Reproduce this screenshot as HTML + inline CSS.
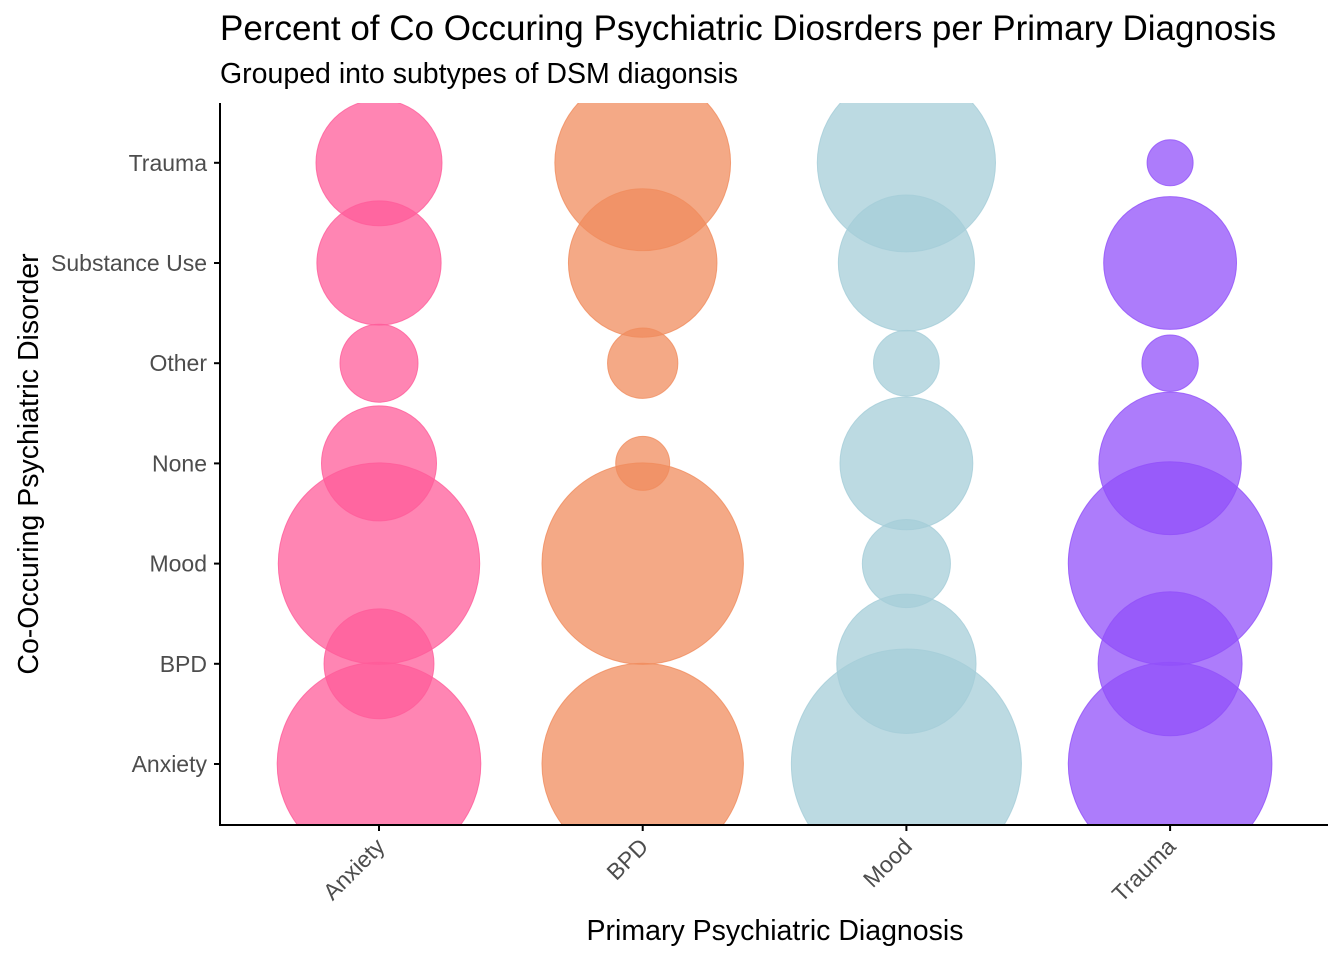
<!DOCTYPE html>
<html><head><meta charset="utf-8"><style>body{margin:0;background:#fff}svg{display:block;font-family:"Liberation Sans",Arial,sans-serif}</style></head>
<body>
<svg id="chart" width="1344" height="960">
<defs><clipPath id="panel"><rect x="221" y="103" width="1107" height="722"/></clipPath></defs>
<text x="220" y="40" font-size="35" fill="#000">Percent of Co Occuring Psychiatric Diosrders per Primary Diagnosis</text>
<text x="220" y="83" font-size="28.5" fill="#000">Grouped into subtypes of DSM diagonsis</text>
<g id="bubbles" clip-path="url(#panel)"></g>
<g id="axes"></g>
<text x="775" y="940" font-size="28.5" text-anchor="middle">Primary Psychiatric Diagnosis</text>
<text transform="translate(38,464) rotate(-90)" font-size="28.5" text-anchor="middle">Co-Occuring Psychiatric Disorder</text>
</svg>
<script>
const primary = ["Anxiety","BPD","Mood","Trauma"];
const cooccur = ["Anxiety","BPD","Mood","None","Other","Substance Use","Trauma"];
const anxietyVals = [47,13.7,46,15,6.9,17.5,18];
const bpdVals = [46,0,46,3.3,5.6,25,35];
const moodVals = [60,22,8.8,20,4.9,21,36];
const traumaVals = [47,23.5,47,23,3.6,20,2.4];
const seriesVals = [anxietyVals,bpdVals,moodVals,traumaVals];
const colors = ["#ff5c9a","#f08c5e","#a5cdd8","#9150f9"];
const NS="http://www.w3.org/2000/svg";
const xPos = i => 379 + i*263.7;
const yPos = j => 764 - j*100.2;
const rScale = v => 14.85*Math.sqrt(v);
const g=document.getElementById('bubbles');
seriesVals.forEach((vals,i)=>{
  vals.forEach((v,j)=>{
    if(v<=0) return;
    const c=document.createElementNS(NS,'circle');
    c.setAttribute('cx',xPos(i));c.setAttribute('cy',yPos(j));c.setAttribute('r',rScale(v));
    c.setAttribute('fill',colors[i]);c.setAttribute('fill-opacity','0.75');
    c.setAttribute('stroke',colors[i]);c.setAttribute('stroke-opacity','0.8');
    
    
    g.appendChild(c);
  });
});
const ax=document.getElementById('axes');
function line(x1,y1,x2,y2,name){const l=document.createElementNS(NS,'line');l.setAttribute('x1',x1);l.setAttribute('y1',y1);l.setAttribute('x2',x2);l.setAttribute('y2',y2);l.setAttribute('stroke','#000');l.setAttribute('stroke-width','2');


ax.appendChild(l);}
line(220,103,220,826,'y-axis-line');
line(219,825,1328,825,'x-axis-line');
cooccur.forEach((c,j)=>{
  line(214,yPos(j),220,yPos(j),'y-tick');
  const t=document.createElementNS(NS,'text');t.setAttribute('x',207);t.setAttribute('y',yPos(j)+8);t.setAttribute('text-anchor','end');t.setAttribute('font-size','23');t.setAttribute('fill','#4d4d4d');t.textContent=c;
  
  
  ax.appendChild(t);
});
primary.forEach((p,i)=>{
  line(xPos(i),825,xPos(i),831,'x-tick');
  const t=document.createElementNS(NS,'text');t.setAttribute('transform','translate('+(xPos(i)+7)+',848) rotate(-45)');t.setAttribute('text-anchor','end');t.setAttribute('font-size','23');t.setAttribute('fill','#4d4d4d');t.textContent=p;
  
  
  ax.appendChild(t);
});
</script>
</body></html>
